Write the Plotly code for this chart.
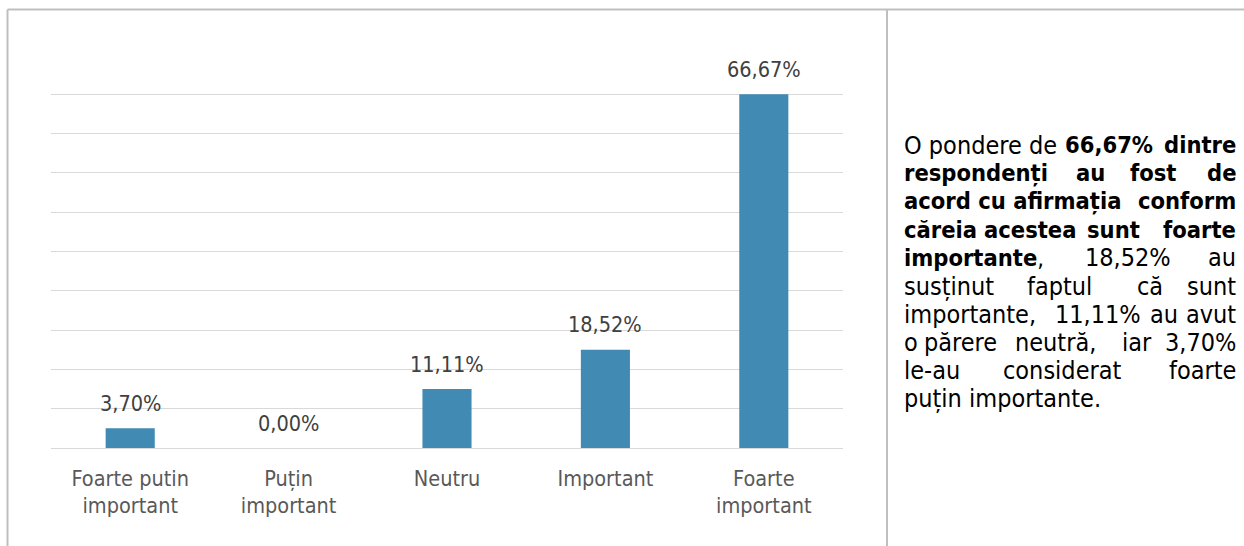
import plotly.graph_objects as go

categories = ["Foarte putin<br>important", "Puțin<br>important", "Neutru", "Important", "Foarte<br>important"]
values = [3.70, 0.00, 11.11, 18.52, 66.67]
value_labels = ["3,70%", "0,00%", "11,11%", "18,52%", "66,67%"]

W, H = 1244, 546
L, R, T, B = 51, 843, 55, 448  # plot area in pixels

FONT = "DejaVu Sans Condensed, DejaVu Sans, sans-serif"

def px(x):
    return (x - L) / (R - L)

def py(y):
    return (B - y) / (B - T)

fig = go.Figure()
fig.add_trace(go.Bar(x=categories, y=values, marker=dict(color="#418AB3", line=dict(width=0)),
                     hoverinfo="skip"))

for c, v, t in zip(categories, values, value_labels):
    fig.add_annotation(x=c, y=v, text=t, showarrow=False, yanchor="middle", yshift=25,
                       font=dict(family=FONT, size=21.5, color="#404040"))

# right-hand text panel, justified by placing words (l = left edge, c = centre, r = right edge)
lines = [
    [("O pondere de", 902, "l"), ("<b>66,67%</b>", 1109, "c"), ("<b>dintre</b>", 1238, "r")],
    [("<b>respondenți</b>", 902, "l"), ("<b>au</b>", 1090, "c"), ("<b>fost</b>", 1153, "c"), ("<b>de</b>", 1238, "r")],
    [("<b>acord cu afirmația</b>", 902, "l"), ("<b>conform</b>", 1238, "r")],
    [("<b>căreia</b>", 902, "l"), ("<b>acestea</b>", 1030, "c"), ("<b>sunt</b>", 1113, "c"), ("<b>foarte</b>", 1238, "r")],
    [("<b>importante</b>,", 902, "l"), ("18,52%", 1128, "c"), ("au", 1238, "r")],
    [("susținut", 902, "l"), ("faptul", 1059, "c"), ("că", 1150, "c"), ("sunt", 1238, "r")],
    [("importante,", 902, "l"), ("11,11%", 1098, "c"), ("au", 1164, "c"), ("avut", 1238, "r")],
    [("o", 902, "l"), ("părere", 960, "c"), ("neutră,", 1055, "c"), ("iar", 1137, "c"), ("3,70%", 1238, "r")],
    [("le-au", 902, "l"), ("considerat", 1062, "c"), ("foarte", 1238, "r")],
    [("puțin importante.", 902, "l")],
]
anchors = {"l": "left", "c": "center", "r": "right"}
y0, dy = 145, 28.2
for i, words in enumerate(lines):
    for txt, x, a in words:
        size = 23.5 if txt.startswith("<b>") else 25
        fig.add_annotation(xref="paper", yref="paper", x=px(x), y=py(y0 + i * dy), text=txt,
                           showarrow=False, xanchor=anchors[a], yanchor="middle",
                           font=dict(family=FONT, size=size, color="#000000"))

border = dict(color="#BFBFBF", width=2)
fig.add_shape(type="line", xref="paper", yref="paper", x0=px(7.5), x1=px(1244), y0=py(9.5), y1=py(9.5), line=border)
fig.add_shape(type="line", xref="paper", yref="paper", x0=px(7.5), x1=px(7.5), y0=py(9.5), y1=py(546), line=border)
fig.add_shape(type="line", xref="paper", yref="paper", x0=px(887), x1=px(887), y0=py(9.5), y1=py(546), line=border)

fig.update_layout(
    width=W, height=H,
    margin=dict(l=L, r=W - R, t=T, b=H - B, pad=0),
    paper_bgcolor="white", plot_bgcolor="white",
    bargap=0.69, showlegend=False,
    font=dict(family=FONT),
)
fig.update_xaxes(showgrid=False, showline=False, ticks="", ticklabelstandoff=15,
                 tickfont=dict(family=FONT, size=21.5, color="#595959"), fixedrange=True)
fig.update_yaxes(range=[0, 2000 / 27], tick0=0, dtick=200 / 27, showticklabels=False, showgrid=True,
                 gridcolor="#D9D9D9", gridwidth=1.3, zeroline=True, zerolinecolor="#D9D9D9", zerolinewidth=1.3,
                 showline=False, fixedrange=True)

fig.write_html("out.html", config={"displayModeBar": False})
